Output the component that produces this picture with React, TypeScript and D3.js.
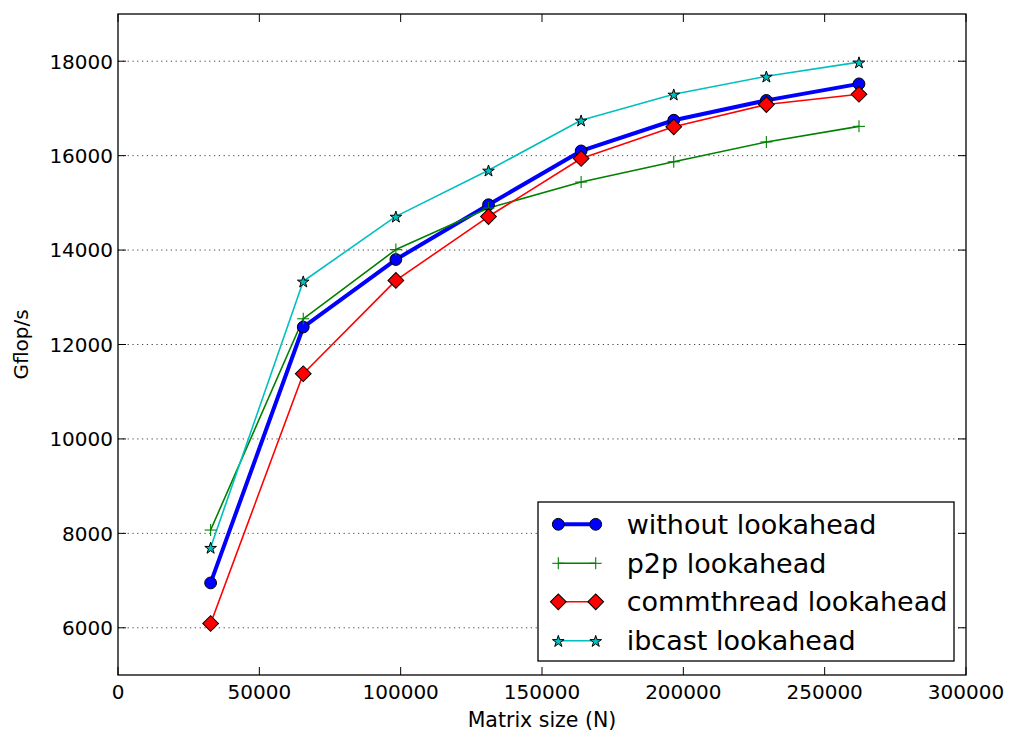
import React from "react";
import * as d3 from "d3";

// Matrix sizes (N) and measured throughput in Gflop/s for each lookahead variant
const matrixSizes = [32768, 65536, 98304, 131072, 163840, 196608, 229376, 262144];
const withoutLookahead = [6950, 12370, 13800, 14960, 16100, 16750, 17170, 17520];
const p2pLookahead = [8070, 12545, 14010, 14890, 15440, 15870, 16290, 16620];
const commthreadLookahead = [6090, 11380, 13357, 14710, 15940, 16610, 17082, 17300];
const ibcastLookahead = [7700, 13340, 14714, 15690, 16749, 17300, 17680, 17980];

const xTicks = [0, 50000, 100000, 150000, 200000, 250000, 300000];
const yTicks = [6000, 8000, 10000, 12000, 14000, 16000, 18000];
const seriesNames = ["without lookahead", "p2p lookahead", "commthread lookahead", "ibcast lookahead"];

type MarkerKind = "circle" | "plus" | "diamond" | "star";
interface Series {
  name: string;
  values: number[];
  color: string;
  width: number;
  marker: MarkerKind;
}

const series: Series[] = [
  { name: seriesNames[0], values: withoutLookahead, color: "#0000ff", width: 4, marker: "circle" },
  { name: seriesNames[1], values: p2pLookahead, color: "#008000", width: 1.6, marker: "plus" },
  { name: seriesNames[2], values: commthreadLookahead, color: "#ff0000", width: 1.6, marker: "diamond" },
  { name: seriesNames[3], values: ibcastLookahead, color: "#00bfbf", width: 1.6, marker: "star" },
];

const W = 1018;
const H = 734;
const L = 118;
const R = 966;
const T = 14;
const B = 675;
const FONT = "'DejaVu Sans', sans-serif";

const x = d3.scaleLinear().domain([0, 300000]).range([L, R]);
const y = d3.scaleLinear().domain([5000, 19000]).range([B, T]);

const starPath = d3.symbol().type(d3.symbolStar).size(42)() as string;
const squarePath = d3.symbol().type(d3.symbolSquare).size(124)() as string;

function Marker({ kind, cx, cy, color }: { kind: MarkerKind; cx: number; cy: number; color: string }) {
  if (kind === "circle") {
    return <circle cx={cx} cy={cy} r={5.9} fill={color} stroke="#000" strokeWidth={1} />;
  }
  if (kind === "plus") {
    return (
      <g stroke={color} strokeWidth={1.1}>
        <line x1={cx - 6} x2={cx + 6} y1={cy} y2={cy} />
        <line x1={cx} x2={cx} y1={cy - 6} y2={cy + 6} />
      </g>
    );
  }
  if (kind === "diamond") {
    return (
      <path
        d={squarePath}
        transform={`translate(${cx},${cy}) rotate(45)`}
        fill={color}
        stroke="#000"
        strokeWidth={1}
      />
    );
  }
  return (
    <path d={starPath} transform={`translate(${cx},${cy + 0.8})`} fill={color} stroke="#000" strokeWidth={1} />
  );
}

export default function App() {
  const line = d3
    .line<number>()
    .x((_, i) => x(matrixSizes[i]))
    .y((v) => y(v));

  const legendX = 538;
  const legendY = 502;
  const legendW = 416;
  const legendH = 159;
  const rowYs = [524.3, 563.3, 601.8, 640.7];

  return (
    <svg
      width={W}
      height={H}
      style={{ position: "absolute", left: 0, top: 0, background: "#fff" }}
      fontFamily={FONT}
    >
      <rect x={0} y={0} width={W} height={H} fill="#fff" />

      {/* horizontal dotted grid */}
      {yTicks.map((t) => (
        <line
          key={`g${t}`}
          x1={L}
          x2={R}
          y1={y(t)}
          y2={y(t)}
          stroke="#000"
          strokeWidth={1}
          strokeOpacity={0.75}
          strokeDasharray="1.2,3.6"
        />
      ))}

      {/* data lines */}
      {series.map((s) => (
        <path
          key={`l${s.name}`}
          d={line(s.values) as string}
          fill="none"
          stroke={s.color}
          strokeWidth={s.width}
          strokeLinejoin="round"
        />
      ))}

      {/* markers */}
      {series.map((s) =>
        s.values.map((v, i) => (
          <Marker key={`m${s.name}${i}`} kind={s.marker} cx={x(matrixSizes[i])} cy={y(v)} color={s.color} />
        ))
      )}

      {/* ticks on all four sides, pointing inward */}
      {xTicks.map((t) => (
        <g key={`xt${t}`} stroke="#000" strokeWidth={1}>
          <line x1={x(t)} x2={x(t)} y1={B} y2={B - 8} />
          <line x1={x(t)} x2={x(t)} y1={T} y2={T + 8} />
        </g>
      ))}
      {yTicks.map((t) => (
        <g key={`yt${t}`} stroke="#000" strokeWidth={1}>
          <line x1={L} x2={L + 8} y1={y(t)} y2={y(t)} />
          <line x1={R} x2={R - 8} y1={y(t)} y2={y(t)} />
        </g>
      ))}

      {/* axes frame */}
      <rect x={L} y={T} width={R - L} height={B - T} fill="none" stroke="#000" strokeWidth={1.3} />

      {/* tick labels */}
      {xTicks.map((t) => (
        <text key={`xl${t}`} x={x(t)} y={699} textAnchor="middle" fontSize={20} fill="#000">
          {t}
        </text>
      ))}
      {yTicks.map((t) => (
        <text key={`yl${t}`} x={113} y={y(t) + 7.3} textAnchor="end" fontSize={20} fill="#000">
          {t}
        </text>
      ))}

      {/* axis titles */}
      <text x={(L + R) / 2} y={727} textAnchor="middle" fontSize={20.5} fill="#000">
        Matrix size (N)
      </text>
      <text
        transform={`translate(27.5,${(T + B) / 2}) rotate(-90)`}
        textAnchor="middle"
        fontSize={20}
        fill="#000"
      >
        Gflop/s
      </text>

      {/* legend */}
      <rect x={legendX} y={legendY} width={legendW} height={legendH} fill="#fff" stroke="#000" strokeWidth={1.3} />
      {series.map((s, i) => (
        <g key={`lg${s.name}`}>
          <line x1={558.3} x2={595.7} y1={rowYs[i]} y2={rowYs[i]} stroke={s.color} strokeWidth={s.width} />
          <Marker kind={s.marker} cx={558.3} cy={rowYs[i]} color={s.color} />
          <Marker kind={s.marker} cx={595.7} cy={rowYs[i]} color={s.color} />
          <text x={626.7} y={rowYs[i] + 9.6} fontSize={27} fill="#000">
            {s.name}
          </text>
        </g>
      ))}
    </svg>
  );
}
